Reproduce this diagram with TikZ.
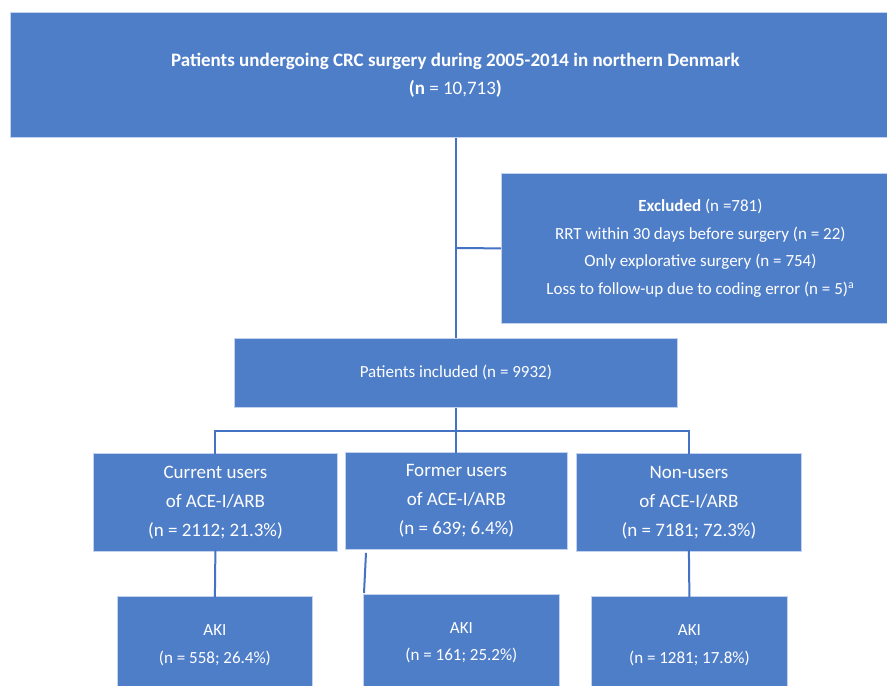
\documentclass[tikz,border=0pt]{standalone}
\usepackage{fontspec}
\setmainfont{Carlito}
\usetikzlibrary{calc}
\definecolor{boxfill}{HTML}{4F7EC8}
\definecolor{boxline}{HTML}{C3D2EE}
\definecolor{conn}{HTML}{4472C4}
\begin{document}
\begin{tikzpicture}[x=1pt,y=-1pt,
  box/.style={rectangle, fill=boxfill, draw=boxline, line width=0.8pt, text=white,
    align=center, anchor=north west, inner sep=0pt},
  fsmall/.style={font=\fontsize{17}{27.5}\selectfont},
  ftitle/.style={font=\fontsize{19}{28}\selectfont},
  fbig/.style={font=\fontsize{19}{29}\selectfont},
  link/.style={draw=conn, line width=2pt}]
\useasboundingbox[fill=white] (0,0) rectangle (887,686);

\node[box, ftitle, minimum width=890, minimum height=125] (top) at (10,12)
  {\textbf{Patients undergoing CRC surgery during 2005-2014 in northern Denmark}\\
   \textbf{(n} = 10,713\textbf{)}};

\node[box, fsmall, minimum width=398, minimum height=150] (excl) at (501,173)
  {\textbf{Excluded} (n =781)\\
   RRT within 30 days before surgery (n = 22)\\
   Only explorative surgery (n = 754)\\
   Loss to follow-up due to coding error (n = 5)\textsuperscript{a}};

\node[box, fsmall, minimum width=443, minimum height=69] (incl) at (234,338)
  {Patients included (n = 9932)};

\node[box, fbig, minimum width=244, minimum height=98] (cur) at (93,453)
  {Current users\\ of ACE-I/ARB\\ (n = 2112; 21.3\%)};
\node[box, fbig, minimum width=222, minimum height=97] (for) at (345,452)
  {Former users\\ of ACE-I/ARB\\ (n = 639; 6.4\%)};
\node[box, fbig, minimum width=225, minimum height=98] (non) at (576,453)
  {Non-users\\ of ACE-I/ARB\\ (n = 7181; 72.3\%)};

\node[box, fsmall, minimum width=195, minimum height=98] (akic) at (117,596)
  {AKI\\ (n = 558; 26.4\%)};
\node[box, fsmall, minimum width=196, minimum height=97] (akif) at (363,594)
  {AKI\\ (n = 161; 25.2\%)};
\node[box, fsmall, minimum width=196, minimum height=98] (akin) at (591,596)
  {AKI\\ (n = 1281; 17.8\%)};

\coordinate (bus) at (456,431);
\coordinate (branch) at (456,248);

\draw[link] (top.south -| branch) -- (incl.north -| branch);
\draw[link] (branch) -- (excl.west);
\draw[link] (incl.south -| bus) -- (bus);
\draw[link] ([yshift=-1pt]cur.north) |- (bus) -| ([yshift=-1pt]non.north);
\draw[link] (bus) -- ([yshift=-1pt]for.north -| bus);

\draw[link] ([yshift=2pt]cur.south) -- ([yshift=-1pt]akic.north);
\draw[link] ($(for.south west)+(21,3)$) -- ($(akif.north west)+(1,-1)$);
\draw[link] ([yshift=2pt]non.south) -- ([yshift=-1pt]akin.north);
\end{tikzpicture}
\end{document}
